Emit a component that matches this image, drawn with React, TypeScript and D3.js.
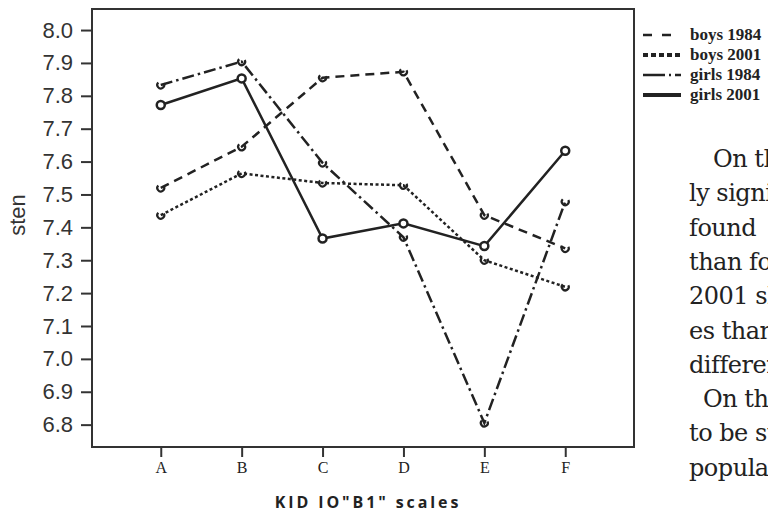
import React, { useEffect, useRef } from "react";
import * as d3 from "d3";

// scales on the x axis
const scales = ["A", "B", "C", "D", "E", "F"];

// mean sten per scale
const boys1984 = [7.52, 7.645, 7.855, 7.873, 7.437, 7.336];
const boys2001 = [7.437, 7.564, 7.535, 7.528, 7.3, 7.219];
const girls1984 = [7.833, 7.904, 7.596, 7.37, 6.805, 7.478];
const girls2001 = [7.772, 7.853, 7.366, 7.412, 7.343, 7.633];

const yTicks = [8.0, 7.9, 7.8, 7.7, 7.6, 7.5, 7.4, 7.3, 7.2, 7.1, 7.0, 6.9, 6.8];

const seriesNames = ["boys 1984", "boys 2001", "girls 1984", "girls 2001"];

// text of the page next to the figure (cut off by the scan)
const bodyLines = [
  "On the",
  "ly significant",
  "found",
  "than for",
  "2001 showed",
  "es than",
  "different",
  "On the",
  "to be statistically",
  "population",
];

const App = () => {
  const svgRef = useRef<SVGSVGElement>(null);

  useEffect(() => {
    const svg = d3.select(svgRef.current);
    svg.selectAll("*").remove();

    const frame = { left: 92, top: 9, right: 634, bottom: 447 };

    const x = d3
      .scalePoint()
      .domain(scales)
      .range([frame.left, frame.right])
      .padding(0.85);

    const y = d3
      .scaleLinear()
      .domain([6.732, 8.064])
      .range([frame.bottom, frame.top]);

    const ink = "#222";

    // y axis
    const yAxis = d3
      .axisLeft(y)
      .tickValues(yTicks)
      .tickSize(11)
      .tickPadding(8)
      .tickFormat(d3.format(".1f"));
    const gy = svg
      .append("g")
      .attr("transform", `translate(${frame.left},0)`)
      .call(yAxis);
    gy.select(".domain").remove();
    gy.selectAll("line").attr("stroke", "#333").attr("stroke-width", 2);
    gy.selectAll("text")
      .attr("font-family", "Liberation Sans Narrow, Arial Narrow, Liberation Sans, sans-serif")
      .attr("font-size", 22)
      .attr("fill", "#333");

    // x axis
    const xAxis = d3.axisBottom(x).tickSize(10).tickPadding(5);
    const gx = svg
      .append("g")
      .attr("transform", `translate(0,${frame.bottom})`)
      .call(xAxis);
    gx.select(".domain").remove();
    gx.selectAll("line").attr("stroke", "#333").attr("stroke-width", 2);
    gx.selectAll("text")
      .attr("font-family", "Liberation Serif, serif")
      .attr("font-size", 16)
      .attr("fill", "#222");

    // frame
    svg
      .append("rect")
      .attr("x", frame.left)
      .attr("y", frame.top)
      .attr("width", frame.right - frame.left)
      .attr("height", frame.bottom - frame.top)
      .attr("fill", "none")
      .attr("stroke", "#333")
      .attr("stroke-width", 2);

    // axis titles
    svg
      .append("text")
      .attr("transform", `translate(25,215) rotate(-90)`)
      .attr("text-anchor", "middle")
      .attr("font-family", "Liberation Sans, Arial, sans-serif")
      .attr("font-size", 22)
      .attr("fill", "#333")
      .text("sten");

    svg
      .append("text")
      .attr("x", 368)
      .attr("y", 508)
      .attr("text-anchor", "middle")
      .attr("font-family", "Open Sans, sans-serif")
      .attr("font-weight", "bold")
      .attr("font-size", 16)
      .attr("letter-spacing", 2.9)
      .attr("fill", "#222")
      .text('KID IO"B1" scales');

    // lines
    const series = [
      { data: boys1984, dash: "9,6", marker: "arc" },
      { data: boys2001, dash: "3,2.5", marker: "arc" },
      { data: girls1984, dash: "12,4,2.5,4", marker: "arc" },
      { data: girls2001, dash: null, marker: "circle" },
    ];

    const line = d3
      .line<number>()
      .x((d, i) => x(scales[i]) as number)
      .y((d) => y(d));

    const arcPath = d3
      .arc()
      .innerRadius(3.5)
      .outerRadius(3.5)
      .startAngle(Math.PI * 0.35)
      .endAngle(Math.PI * 1.75);

    series.forEach((s) => {
      svg
        .append("path")
        .datum(s.data)
        .attr("d", line)
        .attr("fill", "none")
        .attr("stroke", ink)
        .attr("stroke-width", 2.5)
        .attr("stroke-dasharray", s.dash);

      const pts = svg
        .append("g")
        .selectAll("g")
        .data(s.data)
        .join("g")
        .attr("transform", (d, i) => `translate(${x(scales[i])},${y(d)})`);

      if (s.marker === "circle") {
        pts
          .append("circle")
          .attr("r", 4)
          .attr("fill", "white")
          .attr("stroke", ink)
          .attr("stroke-width", 2.5);
      } else {
        pts
          .append("path")
          .attr("d", arcPath as any)
          .attr("fill", "none")
          .attr("stroke", ink)
          .attr("stroke-width", 2.2);
      }
    });

    // legend
    const legendDash = ["9,10", "5,3", "22,4,2,4", null];
    const legendWidth = [2.5, 4, 2.5, 4];
    const lg = svg
      .append("g")
      .selectAll("g")
      .data(seriesNames)
      .join("g")
      .attr("transform", (d, i) => `translate(643,${35 + i * 20})`);
    lg.append("line")
      .attr("x1", 0)
      .attr("x2", 38)
      .attr("stroke", ink)
      .attr("stroke-width", (d, i) => legendWidth[i])
      .attr("stroke-dasharray", (d, i) => legendDash[i]);
    lg.append("text")
      .attr("x", 47)
      .attr("y", 5)
      .attr("font-family", "Liberation Serif, serif")
      .attr("font-weight", "bold")
      .attr("font-size", 17)
      .attr("fill", "#222")
      .text((d) => d);

    // body text
    svg
      .append("g")
      .selectAll("text")
      .data(bodyLines)
      .join("text")
      .attr("x", (d, i) => (i === 0 ? 713 : i === 7 ? 703 : 689))
      .attr("y", (d, i) => 167 + i * 34.3)
      .attr("font-family", "DejaVu Serif, serif")
      .attr("font-size", 24)
      .attr("letter-spacing", -0.5)
      .attr("fill", "#222")
      .text((d) => d);
  }, []);

  return (
    <svg
      ref={svgRef}
      width={768}
      height={513}
      style={{ position: "absolute", left: 0, top: 0, background: "white", overflow: "hidden" }}
    ></svg>
  );
};

export default App;
